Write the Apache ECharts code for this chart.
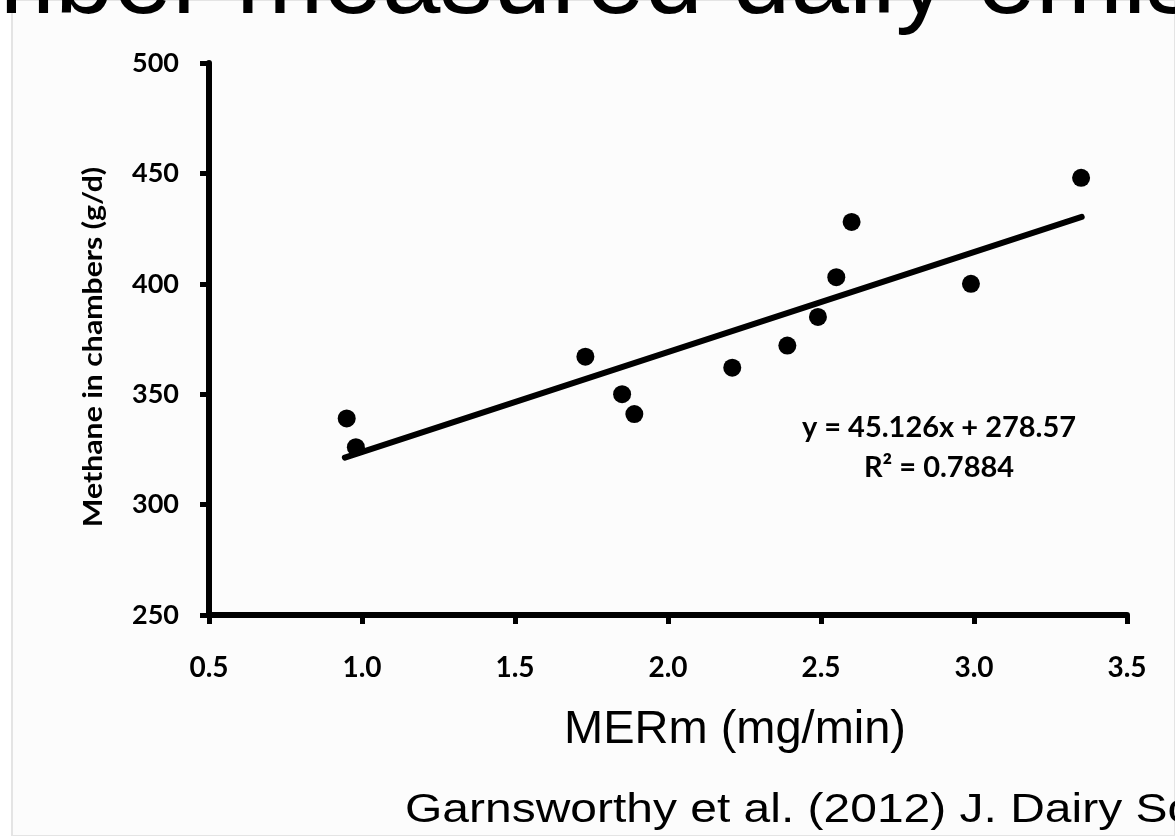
<!DOCTYPE html>
<html>
<head>
<meta charset="utf-8">
<script src="https://cdn.jsdelivr.net/npm/echarts@6/dist/echarts.min.js"></script>
<style>
	html, body { margin: 0; padding: 0; background: #fff; }
	#main { width: 1175px; height: 836px; }
</style>
</head>
<body>
<div id="main"></div>
<script>
// MERm (mg/min) vs methane in chambers (g/d)
var merm = [0.95, 0.98, 1.73, 1.85, 1.89, 2.21, 2.39, 2.49, 2.55, 2.60, 2.99, 3.35];
var methane = [339, 326, 367, 350, 341, 362, 372, 385, 403, 428, 400, 448];
// fitted line end points
var trendX = [0.944, 3.352];
var trendY = [321.3, 430.3];
var xTicks = ['0.5', '1.0', '1.5', '2.0', '2.5', '3.0', '3.5'];
var yTicks = ['250', '300', '350', '400', '450', '500'];

var points = [];
for (var i = 0; i < merm.length; i++) {
	points.push([merm[i], methane[i]]);
}
var trend = [];
for (var j = 0; j < trendX.length; j++) {
	trend.push([trendX[j], trendY[j]]);
}

var myChart = echarts.init(document.getElementById('main'));
var labelFont = 'Lato';
option = {
	backgroundColor: '#ffffff',
	animation: false,
	grid: {
		left: 209,
		right: 48,
		top: 63,
		bottom: 221
	},
	xAxis: {
		type: 'value',
		min: 0.5,
		max: 3.5,
		interval: 0.5,
		splitLine: { show: false },
		axisLine: { show: true, lineStyle: { color: '#000', width: 6 } },
		axisTick: { show: true, length: 9, lineStyle: { color: '#000', width: 5 } },
		axisLabel: {
			margin: 39,
			color: '#000',
			fontFamily: labelFont,
			fontWeight: 'bold',
			fontSize: 28,
			formatter: function(v) {
				var k = Math.round((v - 0.5) / 0.5);
				return xTicks[k] || '';
			}
		}
	},
	yAxis: {
		type: 'value',
		min: 250,
		max: 500,
		interval: 50,
		splitLine: { show: false },
		axisLine: { show: true, lineStyle: { color: '#000', width: 6 } },
		axisTick: { show: true, length: 9, lineStyle: { color: '#000', width: 5 } },
		axisLabel: {
			margin: 30,
			color: '#000',
			fontFamily: labelFont,
			fontWeight: 'bold',
			fontSize: 27,
			formatter: function(v) {
				var k = Math.round((v - 250) / 50);
				return yTicks[k] || '';
			}
		}
	},
	graphic: [
		{
			type: 'rect',
			z: -10,
			shape: { x: 12, y: 0, width: 1163, height: 836 },
			style: { fill: '#fcfcfc', stroke: '#e4e4e4', lineWidth: 2 }
		},
		{
			type: 'text',
			x: -225,
			y: -16,
			style: {
				text: 'Chamber measured daily emission',
				font: '105px "Liberation Sans", Arial, sans-serif',
				fill: '#000',
				align: 'left',
				verticalAlign: 'middle'
			}
		},
		{
			type: 'text',
			x: 93,
			y: 347,
			rotation: Math.PI / 2,
			scaleX: 1.12,
			style: {
				text: 'Methane in chambers (g/d)',
				font: 'bold 27px Lato, sans-serif',
				fill: '#000',
				align: 'center',
				verticalAlign: 'middle'
			}
		},
		{
			type: 'text',
			x: 735,
			y: 730,
			style: {
				text: 'MERm (mg/min)',
				font: '47px "Liberation Sans", Arial, sans-serif',
				fill: '#000',
				align: 'center',
				verticalAlign: 'middle'
			}
		},
		{
			type: 'text',
			x: 405,
			y: 811,
			scaleX: 1.17,
			style: {
				text: 'Garnsworthy et al. (2012) J. Dairy Sci.',
				font: '41px "Liberation Sans", Arial, sans-serif',
				fill: '#000',
				align: 'left',
				verticalAlign: 'middle'
			}
		},
		{
			type: 'text',
			x: 939,
			y: 428,
			style: {
				text: 'y = 45.126x + 278.57',
				font: 'bold 29px Lato, sans-serif',
				fill: '#000',
				align: 'center',
				verticalAlign: 'middle'
			}
		},
		{
			type: 'text',
			x: 939,
			y: 468,
			style: {
				text: 'R\u00b2 = 0.7884',
				font: 'bold 29px Lato, sans-serif',
				fill: '#000',
				align: 'center',
				verticalAlign: 'middle'
			}
		}
	],
	series: [
		{
			name: 'trend',
			type: 'line',
			data: trend,
			symbol: 'none',
			lineStyle: { color: '#000', width: 6, cap: 'round' },
			z: 2
		},
		{
			name: 'methane',
			type: 'scatter',
			data: points,
			symbol: 'circle',
			symbolSize: 18,
			itemStyle: { color: '#000', opacity: 1 },
			z: 3
		}
	]
};
myChart.setOption(option);
</script>
</body>
</html>
